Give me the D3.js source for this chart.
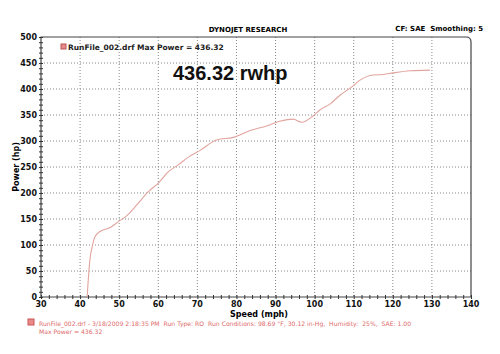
<!DOCTYPE html>
<html>
<head>
<meta charset="utf-8">
<script src="https://cdn.jsdelivr.net/npm/d3@7"></script>
<style>
  body { margin: 0; background: #fff; }
  text { font-family: "DejaVu Sans", Verdana, sans-serif; }
</style>
</head>
<body>
<script>
// speed (mph) vs power (hp)
const speed = [41.8, 42.5, 43.2, 43.8, 45.1, 47.6, 49.8, 51.9, 54.5, 57.4, 60.0, 62.6, 65.1, 67.7, 70.7,
               74.9, 79.2, 83.5, 87.7, 91.1, 94.5, 96.7, 99.6, 101.4, 103.9, 106.5, 109.5, 111.6, 115.0,
               117.6, 120.1, 124.4, 129.5];
const power = [0, 71, 100, 116, 126, 133, 145, 156, 177, 202, 219, 241, 254, 269, 282,
               302, 307, 320, 329, 338, 342, 336, 348, 360, 371, 388, 404, 417, 427,
               428, 431, 435, 436.3];
const xTicks = [30, 40, 50, 60, 70, 80, 90, 100, 110, 120, 130, 140];
const yTicks = [0, 50, 100, 150, 200, 250, 300, 350, 400, 450, 500];

const outerWidth = 500, outerHeight = 354;
const margin = {top: 37, right: 29, bottom: 57, left: 41};
const width = outerWidth - margin.left - margin.right;
const height = outerHeight - margin.top - margin.bottom;

const svg = d3.select("body").append("svg")
    .attr("width", outerWidth)
    .attr("height", outerHeight);

const g = svg.append("g")
    .attr("transform", `translate(${margin.left},${margin.top})`);

const xScale = d3.scaleLinear().domain([30, 140]).range([0, width]);
const yScale = d3.scaleLinear().domain([0, 500]).range([height, 0]);

// dotted grid
g.append("g").selectAll("line").data(xTicks.slice(1, -1)).join("line")
    .attr("x1", d => xScale(d)).attr("x2", d => xScale(d))
    .attr("y1", 0).attr("y2", height)
    .attr("stroke", "#888").attr("stroke-width", 1).attr("stroke-dasharray", "1,2");
g.append("g").selectAll("line").data(yTicks.slice(1, -1)).join("line")
    .attr("y1", d => yScale(d)).attr("y2", d => yScale(d))
    .attr("x1", 0).attr("x2", width)
    .attr("stroke", "#888").attr("stroke-width", 1).attr("stroke-dasharray", "1,2");

// frame with rounded top right corner
const r = 5;
g.append("path")
    .attr("d", `M0,${height} V0 H${width - r} Q${width},0 ${width},${r} V${height} Z`)
    .attr("fill", "none").attr("stroke", "#444").attr("stroke-width", 1.2);

// axes: minor ticks crossing the axis line
const xAxis = d3.axisBottom(xScale).tickValues(d3.range(30, 141, 2)).tickSize(3).tickFormat("");
const yAxis = d3.axisLeft(yScale).tickValues(d3.range(0, 501, 10)).tickSize(3).tickFormat("");
const xa = g.append("g").attr("transform", `translate(0,${height})`).call(xAxis);
const ya = g.append("g").call(yAxis);
[xa, ya].forEach(a => {
  a.select(".domain").remove();
  a.selectAll("line").attr("stroke", "#333");
});
xa.selectAll(".tick line").attr("y1", -2).attr("y2", 2);
ya.selectAll(".tick line").attr("x1", -2).attr("x2", 2);

// tick labels
g.append("g").selectAll("text").data(xTicks).join("text")
    .attr("x", d => xScale(d)).attr("y", height + 10)
    .attr("text-anchor", "middle").attr("font-size", 8).attr("font-weight", "bold")
    .attr("fill", "#111").text(d => d);
g.append("g").selectAll("text").data(yTicks).join("text")
    .attr("x", -4).attr("y", d => yScale(d) + 3)
    .attr("text-anchor", "end").attr("font-size", 8).attr("font-weight", "bold")
    .attr("fill", "#111").text(d => d);

// axis titles
g.append("text").attr("x", width / 2 + 3).attr("y", height + 20)
    .attr("text-anchor", "middle").attr("font-size", 8).attr("font-weight", "bold")
    .text("Speed (mph)");
g.append("text").attr("transform", `translate(-22,${height / 2}) rotate(-90)`)
    .attr("text-anchor", "middle").attr("font-size", 8).attr("font-weight", "bold")
    .text("Power (hp)");

// headers
svg.append("text").attr("x", 248).attr("y", 32).attr("text-anchor", "middle")
    .attr("font-size", 7).attr("font-weight", "bold").text("DYNOJET RESEARCH");
svg.append("text").attr("x", 483).attr("y", 31).attr("text-anchor", "end")
    .attr("font-size", 7).attr("font-weight", "bold").text("CF: SAE  Smoothing: 5")
    .attr("xml:space", "preserve");

// legend in plot
g.append("rect").attr("x", 20).attr("y", 7).attr("width", 5).attr("height", 5)
    .attr("fill", "#e88a8a").attr("stroke", "#b55");
g.append("text").attr("x", 27).attr("y", 13).attr("font-size", 7.5).attr("font-weight", "bold")
    .attr("fill", "#222").text("RunFile_002.drf Max Power = 436.32");

// big annotation
g.append("text").attr("x", 132).attr("y", 43)
    .style("font-family", "'Liberation Sans', Arial, sans-serif")
    .attr("font-size", 20).attr("font-weight", "bold").attr("fill", "#111")
    .text("436.32 rwhp");

// curve
const data = speed.map((s, i) => ({speed: s, power: power[i]}));
const line = d3.line()
    .x(d => xScale(d.speed))
    .y(d => yScale(d.power))
    .curve(d3.curveMonotoneX);
g.append("path").datum(data)
    .attr("fill", "none").attr("stroke", "#e2a49e").attr("stroke-width", 1.1)
    .attr("d", line);

// run info footer
svg.append("rect").attr("x", 28).attr("y", 319).attr("width", 6).attr("height", 6)
    .attr("fill", "#e88a8a").attr("stroke", "#c55");
svg.append("text").attr("x", 39).attr("y", 325.5).attr("font-size", 6.1).attr("fill", "#e06a6a")
    .attr("xml:space", "preserve")
    .text("RunFile_002.drf - 3/18/2009 2:18:35 PM  Run Type: RO  Run Conditions: 98.69 °F, 30.12 in-Hg,  Humidity:  25%,  SAE: 1.00");
svg.append("text").attr("x", 39).attr("y", 333.5).attr("font-size", 6.1).attr("fill", "#e06a6a")
    .text("Max Power = 436.32");
</script>
</body>
</html>
